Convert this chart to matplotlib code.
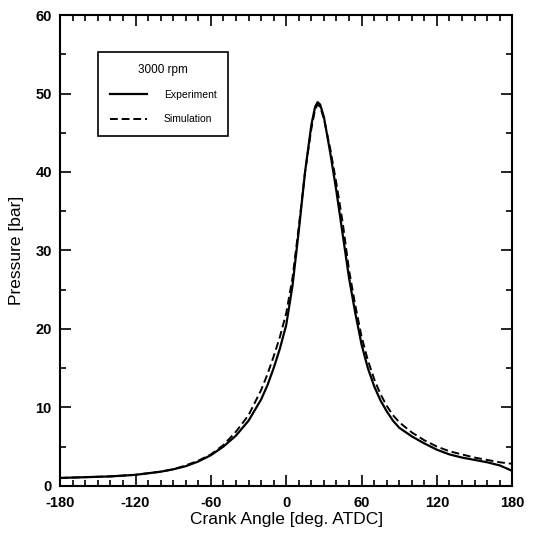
import matplotlib
matplotlib.use("Agg")
import matplotlib.pyplot as plt
from matplotlib.ticker import MultipleLocator

plt.rcParams['font.family'] = ['Liberation Sans', 'DejaVu Sans']
plt.rcParams['axes.unicode_minus'] = False

# crank angle [deg ATDC] and cylinder pressure [bar]
exp_angle = [-180, -160, -140, -120, -100, -90, -80, -70, -60, -50, -40, -30,
             -20, -15, -10, -5, 0, 5, 10, 15, 20, 23, 25, 27, 30, 35, 40, 45,
             50, 55, 60, 65, 70, 75, 80, 85, 90, 100, 110, 120, 130, 140, 150,
             160, 170, 180]
exp_pressure = [1.0, 1.1, 1.2, 1.4, 1.8, 2.1, 2.5, 3.1, 3.9, 5.0, 6.4, 8.3,
                11.0, 12.8, 15.0, 17.5, 20.5, 25.5, 32.5, 40.0, 46.0, 48.3,
                48.9, 48.6, 47.0, 42.5, 37.5, 32.0, 26.5, 22.0, 18.0, 15.0,
                12.7, 10.9, 9.5, 8.3, 7.4, 6.3, 5.4, 4.6, 4.0, 3.6, 3.3, 3.0,
                2.6, 1.9]

sim_angle = [-180, -160, -140, -120, -100, -90, -80, -70, -60, -50, -40, -30,
             -20, -15, -10, -5, 0, 5, 10, 15, 20, 23, 25, 27, 30, 35, 40, 45,
             50, 55, 60, 65, 70, 75, 80, 85, 90, 100, 110, 120, 130, 140, 150,
             160, 170, 180]
sim_pressure = [1.0, 1.1, 1.2, 1.4, 1.8, 2.1, 2.6, 3.2, 4.0, 5.2, 6.9, 9.0,
                12.2, 14.2, 16.5, 19.0, 22.0, 26.5, 33.0, 40.0, 45.5, 48.0,
                48.6, 48.3, 46.8, 43.0, 38.5, 33.5, 27.5, 23.0, 19.0, 16.0,
                13.6, 11.7, 10.2, 9.0, 8.1, 6.8, 5.8, 5.0, 4.4, 4.0, 3.6, 3.3,
                3.0, 2.8]

fig = plt.figure(figsize=(5.37, 5.38), dpi=100)
ax = fig.add_axes([0.112, 0.097, 0.842, 0.875])

ax.plot(exp_angle, exp_pressure, color='black', linewidth=1.6,
        label='Experiment')
ax.plot(sim_angle, sim_pressure, color='black', linewidth=1.4,
        linestyle=(0, (4, 2)), label='Simulation')

ax.set_xlim(-180, 180)
ax.set_ylim(0, 60)
ax.xaxis.set_major_locator(MultipleLocator(60))
ax.xaxis.set_minor_locator(MultipleLocator(10))
ax.yaxis.set_major_locator(MultipleLocator(10))
ax.yaxis.set_minor_locator(MultipleLocator(5))
ax.tick_params(which='both', direction='in', top=True, right=True,
               width=1.2)
ax.tick_params(which='major', length=8, labelsize=10.5)
ax.tick_params(which='minor', length=4)
ax.tick_params(axis='x', which='major', pad=7)
ax.tick_params(axis='y', which='major', pad=6)
for lbl in ax.get_xticklabels() + ax.get_yticklabels():
    lbl.set_fontweight('bold')
for sp in ax.spines.values():
    sp.set_linewidth(1.5)

ax.set_xlabel('Crank Angle [deg. ATDC]', fontsize=12.5, labelpad=2)
ax.set_ylabel('Pressure [bar]', fontsize=12.5, labelpad=8)

leg = ax.legend(title='3000 rpm', loc='upper left',
                bbox_to_anchor=(0.084, 0.921), borderaxespad=0,
                fontsize=7.5, title_fontsize=8.5, handlelength=3.6,
                handletextpad=1.6, labelspacing=1.4, borderpad=1.1,
                fancybox=False, edgecolor='black', framealpha=1)
leg.get_frame().set_linewidth(1.2)
leg._legend_box.sep = 10

fig.savefig('out.png', dpi=100)
